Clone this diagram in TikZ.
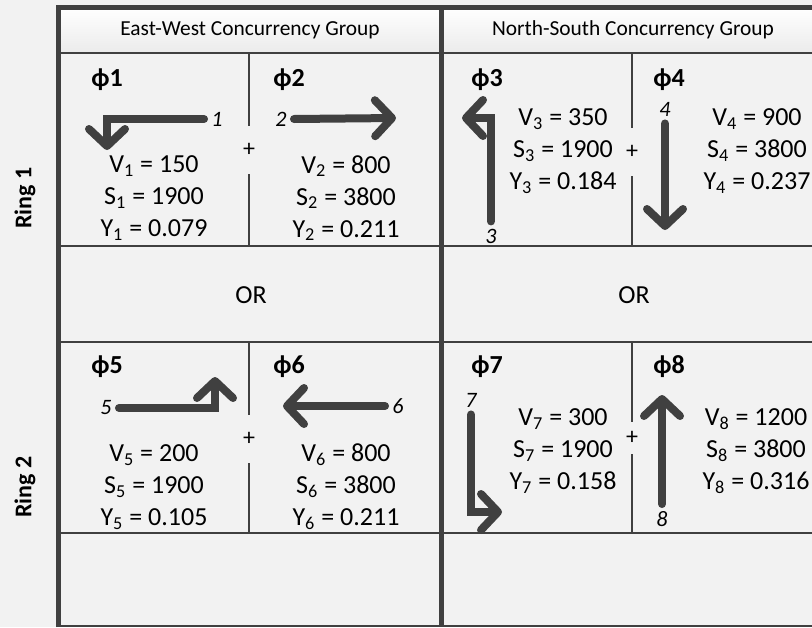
\documentclass[tikz,border=0pt]{standalone}
\usepackage{fontspec}
\setmainfont{Carlito}
\usetikzlibrary{arrows.meta}
\definecolor{bgGray}{HTML}{F2F2F2}
\definecolor{lineGray}{HTML}{404040}
\definecolor{headBot}{HTML}{EBEBEB}

\begin{document}
\begin{tikzpicture}[x=0.5pt, y=-0.5pt,
  frame/.style={draw=lineGray, line width=2.5pt},
  rowline/.style={draw=lineGray, line width=1pt},
  divline/.style={draw=lineGray, line width=0.7pt},
  mv/.style={draw=lineGray, line width=4pt, line cap=round, -{Straight Barb[length=8.5pt, width=18pt, round]}},
  phase/.style={font=\fontsize{13}{15}\selectfont\bfseries, anchor=west, inner sep=0pt},
  vals/.style={font=\fontsize{13}{16}\selectfont, align=center},
  lanenum/.style={font=\fontsize{11}{12}\selectfont\itshape, inner sep=3.5pt},
  plus/.style={font=\fontsize{12}{12}\selectfont, fill=bgGray, inner xsep=1pt, minimum height=24pt},
  grouphead/.style={font=\fontsize{10.7}{12}\selectfont},
  ringlbl/.style={font=\fontsize{12}{14}\selectfont\bfseries, rotate=90},
  ortext/.style={font=\fontsize{13}{14}\selectfont}]
\useasboundingbox (0,0) rectangle (812,627);
\fill[bgGray] (0,0) rectangle (812,627);
% ---------- headers ----------
\shade[top color=white, bottom color=headBot] (58,7) rectangle (441,53);
\shade[top color=white, bottom color=headBot] (441,7) rectangle (812,53);
\node[grouphead] (ewhead) at (250,30) {East-West Concurrency Group};
\node[grouphead] (nshead) at (633,30) {North-South Concurrency Group};
% ---------- grid ----------
\draw[rowline] (58,53) -- (812,53);
\draw[rowline] (58,246) -- (812,246);
\draw[rowline] (58,342) -- (812,342);
\draw[rowline] (58,533) -- (812,533);
\draw[rowline] (58,626) -- (812,626);
\draw[divline] (249,53) -- (249,246);
\draw[divline] (632,53) -- (632,246);
\draw[divline] (249,342) -- (249,533);
\draw[divline] (632,342) -- (632,533);
\draw[frame] (58,627) -- (58,7) -- (812,7);
\draw[frame] (441,7) -- (441,627);
\node[ringlbl] (ring1) at (25,198) {Ring 1};
\node[ringlbl] (ring2) at (25,487) {Ring 2};
\node[ortext] (or1) at (251,295) {OR};
\node[ortext] (or2) at (634,295) {OR};
% ---------- ring 1 ----------
\node[phase] (ph1) at (91,80) {ϕ1};
\node[phase] (ph2) at (273,80) {ϕ2};
\node[phase] (ph3) at (471,80) {ϕ3};
\node[phase] (ph4) at (653,80) {ϕ4};
\node[plus] (plus12) at (249,150) {+};
\node[plus] (plus34) at (632,152) {+};
\node[vals] (val1) at (154,198) {V\textsubscript{1} = 150\\S\textsubscript{1} = 1900\\Y\textsubscript{1} = 0.079};
\node[vals] (val2) at (346,198) {V\textsubscript{2} = 800\\S\textsubscript{2} = 3800\\Y\textsubscript{2} = 0.211};
\node[vals] (val3) at (563,151) {V\textsubscript{3} = 350\\S\textsubscript{3} = 1900\\Y\textsubscript{3} = 0.184};
\node[vals] (val4) at (757,151) {V\textsubscript{4} = 900\\S\textsubscript{4} = 3800\\Y\textsubscript{4} = 0.237};
\node[lanenum] (n1) at (217,119) {1};
\node[lanenum] (n2) at (281,119) {2};
\node[lanenum] (n3) at (491,236) {3};
\node[lanenum] (n4) at (665,109) {4};
\coordinate (t1) at (107,150);
\coordinate (t2) at (396,118);
\coordinate (t3) at (462,118);
\coordinate (t4) at (665,230);
\draw[mv] (n1.west) -| (t1);
\draw[mv] (n2.east) -- (t2);
\draw[mv] (n3.north) |- (t3);
\draw[mv] (n4.south) -- (t4);
% ---------- ring 2 ----------
\node[phase] (ph5) at (91,367) {ϕ5};
\node[phase] (ph6) at (273,367) {ϕ6};
\node[phase] (ph7) at (471,367) {ϕ7};
\node[phase] (ph8) at (653,367) {ϕ8};
\node[plus] (plus56) at (249,439) {+};
\node[plus, minimum height=16pt] (plus78) at (632,438) {+};
\node[vals] (val5) at (154,487) {V\textsubscript{5} = 200\\S\textsubscript{5} = 1900\\Y\textsubscript{5} = 0.105};
\node[vals] (val6) at (346,487) {V\textsubscript{6} = 800\\S\textsubscript{6} = 3800\\Y\textsubscript{6} = 0.211};
\node[vals] (val7) at (563,451) {V\textsubscript{7} = 300\\S\textsubscript{7} = 1900\\Y\textsubscript{7} = 0.158};
\node[vals] (val8) at (756,451) {V\textsubscript{8} = 1200\\S\textsubscript{8} = 3800\\Y\textsubscript{8} = 0.316};
\node[lanenum] (n5) at (106,408) {5};
\node[lanenum] (n6) at (398,406) {6};
\node[lanenum] (n7) at (471,400) {7};
\node[lanenum] (n8) at (662,519) {8};
\coordinate (t5) at (215,377);
\coordinate (t6) at (283,406);
\coordinate (t7) at (502,512);
\coordinate (t8) at (662,395);
\draw[mv] (n5.east) -| (t5);
\draw[mv] (n6.west) -- (t6);
\draw[mv] (n7.south) |- (t7);
\draw[mv] (n8.north) -- (t8);
\end{tikzpicture}
\end{document}
